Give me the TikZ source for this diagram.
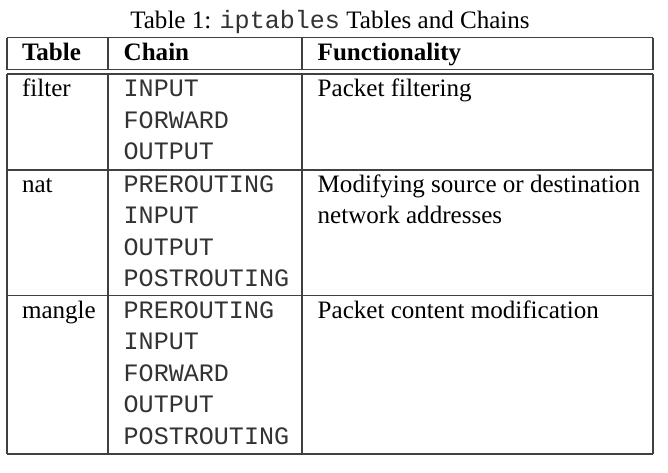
\documentclass[tikz,border=0pt]{standalone}
\usepackage{fontspec}
\setmainfont{Liberation Serif}
\setmonofont{Liberation Mono}
\begin{document}
\begin{tikzpicture}[x=0.381pt,y=-0.381pt,
  rule/.style={line width=0.4pt,draw=black!75},
  cell/.style={anchor=base west,inner sep=0pt,outer sep=0pt,font=\fontsize{9.55}{12}\selectfont},
  chain/.style={cell,font=\fontsize{9.55}{12}\selectfont\ttfamily,text=black!80},
  head/.style={cell,font=\fontsize{9.55}{12}\selectfont\bfseries}]
\useasboundingbox (0,0) rectangle (668,472);
% caption
\node[anchor=base,inner sep=0pt,font=\fontsize{9.55}{12}\selectfont] (cap) at (330,28) {Table 1: {\color{black!80}\texttt{iptables}} Tables and Chains};
% rules
\draw[rule] (7,37.5) -- (653,37.5);
\draw[rule] (7,69.5) -- (653,69.5);
\draw[rule] (7,74) -- (653,74);
\draw[rule] (7,170) -- (653,170);
\draw[rule] (7,295.5) -- (653,295.5);
\draw[rule] (7,454) -- (653,454);
\draw[rule] (7,37.5) -- (7,69.5);
\draw[rule] (108,37.5) -- (108,69.5);
\draw[rule] (302,37.5) -- (302,69.5);
\draw[rule] (653,37.5) -- (653,69.5);
\draw[rule] (7,74) -- (7,454);
\draw[rule] (108,74) -- (108,454);
\draw[rule] (302,74) -- (302,454);
\draw[rule] (653,74) -- (653,454);
% header
\node[head] (h1) at (22,60.5) {Table};
\node[head] (h2) at (123.7,60.5) {Chain};
\node[head] (h3) at (317.7,60.5) {Functionality};
% filter
\node[cell] (t1) at (22,96.5) {filter};
\node[chain] (c11) at (123.7,96.5) {INPUT};
\node[chain] (c12) at (123.7,128) {FORWARD};
\node[chain] (c13) at (123.7,159.5) {OUTPUT};
\node[cell] (f1) at (317.7,96.5) {Packet filtering};
% nat
\node[cell] (t2) at (22,192) {nat};
\node[chain] (c21) at (123.7,192) {PREROUTING};
\node[chain] (c22) at (123.7,223.5) {INPUT};
\node[chain] (c23) at (123.7,255) {OUTPUT};
\node[chain] (c24) at (123.7,286.5) {POSTROUTING};
\node[cell] (f2a) at (317.7,192) {Modifying source or destination};
\node[cell] (f2b) at (317.7,223.5) {network addresses};
% mangle
\node[cell] (t3) at (22,318) {mangle};
\node[chain] (c31) at (123.7,318) {PREROUTING};
\node[chain] (c32) at (123.7,349.5) {INPUT};
\node[chain] (c33) at (123.7,381) {FORWARD};
\node[chain] (c34) at (123.7,412.5) {OUTPUT};
\node[chain] (c35) at (123.7,444) {POSTROUTING};
\node[cell] (f3) at (317.7,318) {Packet content modification};
\end{tikzpicture}
\end{document}
